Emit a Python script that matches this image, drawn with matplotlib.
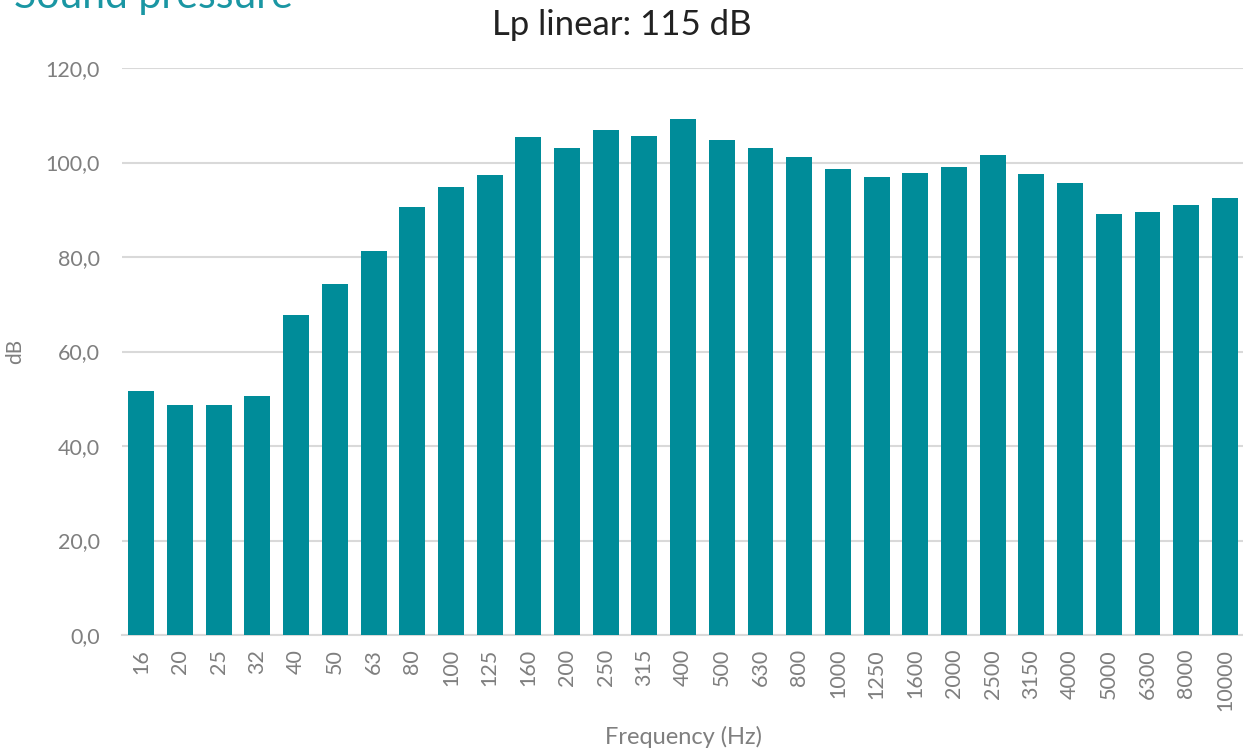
import numpy as np
import matplotlib.pyplot as plt

plt.rcParams['font.family'] = ['Lato', 'DejaVu Sans']

# octave-band frequencies and sound pressure levels
freqs = ['16', '20', '25', '32', '40', '50', '63', '80', '100', '125', '160', '200',
         '250', '315', '400', '500', '630', '800', '1000', '1250', '1600', '2000',
         '2500', '3150', '4000', '5000', '6300', '8000', '10000']
levels = [51.6, 48.7, 48.6, 50.5, 67.7, 74.3, 81.3, 90.5, 94.9, 97.4, 105.4, 103.1,
          106.8, 105.6, 109.2, 104.8, 103.0, 101.2, 98.6, 97.0, 97.8, 99.0,
          101.6, 97.6, 95.7, 89.1, 89.5, 91.0, 92.5]
yticks = [0, 20, 40, 60, 80, 100, 120]

bar_color = '#008c99'
grid_color = '#d9d9d9'
text_gray = '#7f7f7f'

W, H = 1243, 753
fig = plt.figure(figsize=(W / 100, H / 100), dpi=100)
ax_w = 1 - 122 / W + 0.001
ax = fig.add_axes([122 / W, 1 - 635 / H, ax_w, (635 - 68) / H])

x = np.arange(len(freqs))
ax.bar(x, levels, width=0.67, color=bar_color, zorder=3)

ax.set_xlim(-0.5, len(freqs) - 0.5)
ax.set_ylim(0, 120)
ax.set_yticks(yticks)
ax.set_yticklabels([f'{v:.1f}'.replace('.', ',') for v in yticks])
ax.set_xticks(x)
ax.set_xticklabels(freqs, rotation=90)

ax.grid(axis='y', color=grid_color, linewidth=1.5, zorder=0)
for s in ['top', 'right', 'left']:
    ax.spines[s].set_visible(False)
ax.spines['bottom'].set_color(grid_color)
ax.spines['bottom'].set_linewidth(1.5)
ax.tick_params(axis='both', length=0, colors=text_gray, labelsize=15.5)
ax.tick_params(axis='y', pad=16)
ax.tick_params(axis='x', pad=10)

ax.set_ylabel('dB', color=text_gray, fontsize=15)
ax.yaxis.set_label_coords((25 - 122) / (ax_w * W), 0.5)
ax.set_xlabel('Frequency (Hz)', color=text_gray, fontsize=17)
ax.xaxis.set_label_coords(0.5, -(737 - 635) / (635 - 68))
ax.xaxis.label.set_va('center')

fig.text(622 / W, 1 - 25 / H, 'Lp linear: 115 dB', ha='center', va='center',
         fontsize=25, color='#222222')
fig.text(14 / W, 1 - 8 / H, 'Sound pressure', ha='left', va='baseline',
         fontsize=29.5, color='#1a96a3')

fig.savefig('out.png', dpi=100)
